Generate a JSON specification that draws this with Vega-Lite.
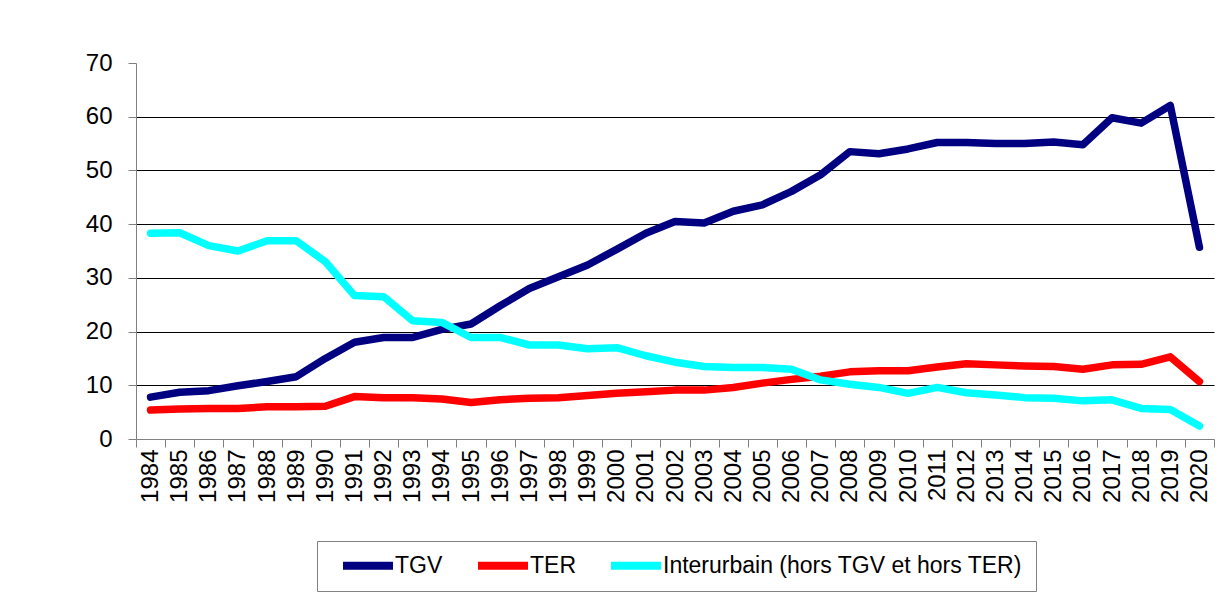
{
  "$schema": "https://vega.github.io/schema/vega-lite/v6.json",
  "autosize": "none",
  "width": 1078,
  "height": 376,
  "padding": {"left": 136, "top": 63, "right": 17, "bottom": 162},
  "background": "white",
  "config": {
    "view": {"stroke": null},
    "font": "Liberation Sans"
  },
  "data": {
    "values": [
      {"annee": "1984", "TGV": 7.8, "TER": 5.4, "Inter": 38.3},
      {"annee": "1985", "TGV": 8.7, "TER": 5.6, "Inter": 38.4},
      {"annee": "1986", "TGV": 9.0, "TER": 5.7, "Inter": 36.0},
      {"annee": "1987", "TGV": 9.9, "TER": 5.7, "Inter": 35.0},
      {"annee": "1988", "TGV": 10.7, "TER": 6.0, "Inter": 36.9},
      {"annee": "1989", "TGV": 11.6, "TER": 6.0, "Inter": 36.9},
      {"annee": "1990", "TGV": 15.0, "TER": 6.1, "Inter": 33.0},
      {"annee": "1991", "TGV": 18.0, "TER": 7.9, "Inter": 26.7},
      {"annee": "1992", "TGV": 18.9, "TER": 7.7, "Inter": 26.5},
      {"annee": "1993", "TGV": 18.9, "TER": 7.7, "Inter": 22.0},
      {"annee": "1994", "TGV": 20.4, "TER": 7.45, "Inter": 21.7},
      {"annee": "1995", "TGV": 21.4, "TER": 6.8, "Inter": 18.9},
      {"annee": "1996", "TGV": 24.8, "TER": 7.3, "Inter": 18.9},
      {"annee": "1997", "TGV": 28.0, "TER": 7.6, "Inter": 17.5},
      {"annee": "1998", "TGV": 30.2, "TER": 7.7, "Inter": 17.5},
      {"annee": "1999", "TGV": 32.4, "TER": 8.1, "Inter": 16.8},
      {"annee": "2000", "TGV": 35.3, "TER": 8.5, "Inter": 17.0},
      {"annee": "2001", "TGV": 38.3, "TER": 8.8, "Inter": 15.5},
      {"annee": "2002", "TGV": 40.5, "TER": 9.1, "Inter": 14.3},
      {"annee": "2003", "TGV": 40.2, "TER": 9.1, "Inter": 13.5},
      {"annee": "2004", "TGV": 42.4, "TER": 9.6, "Inter": 13.3},
      {"annee": "2005", "TGV": 43.6, "TER": 10.4, "Inter": 13.3},
      {"annee": "2006", "TGV": 46.1, "TER": 11.1, "Inter": 13.0},
      {"annee": "2007", "TGV": 49.2, "TER": 11.7, "Inter": 11.0},
      {"annee": "2008", "TGV": 53.5, "TER": 12.5, "Inter": 10.2},
      {"annee": "2009", "TGV": 53.1, "TER": 12.7, "Inter": 9.6},
      {"annee": "2010", "TGV": 54.0, "TER": 12.7, "Inter": 8.5},
      {"annee": "2011", "TGV": 55.2, "TER": 13.4, "Inter": 9.6},
      {"annee": "2012", "TGV": 55.2, "TER": 14.0, "Inter": 8.6},
      {"annee": "2013", "TGV": 55.0, "TER": 13.8, "Inter": 8.2},
      {"annee": "2014", "TGV": 55.0, "TER": 13.6, "Inter": 7.7},
      {"annee": "2015", "TGV": 55.3, "TER": 13.5, "Inter": 7.6},
      {"annee": "2016", "TGV": 54.8, "TER": 13.0, "Inter": 7.1},
      {"annee": "2017", "TGV": 59.8, "TER": 13.8, "Inter": 7.3},
      {"annee": "2018", "TGV": 58.8, "TER": 13.9, "Inter": 5.7},
      {"annee": "2019", "TGV": 62.1, "TER": 15.3, "Inter": 5.5},
      {"annee": "2020", "TGV": 35.7, "TER": 10.7, "Inter": 2.4}
    ]
  },
  "transform": [
    {"calculate": "datum.Inter", "as": "Interurbain (hors TGV et hors TER)"},
    {"fold": ["TGV", "TER", "Interurbain (hors TGV et hors TER)"], "as": ["serie", "valeur"]}
  ],
  "mark": {"type": "line", "strokeWidth": 7.5, "strokeCap": "round", "strokeJoin": "round"},
  "encoding": {
    "x": {
      "field": "annee",
      "type": "ordinal",
      "bandPosition": 0.5,
      "scale": {"type": "band", "paddingInner": 0, "paddingOuter": 0},
      "axis": {
        "title": null,
        "labelAngle": -90,
        "labelAlign": "right",
        "labelBaseline": "middle",
        "labelFontSize": 24,
        "labelColor": "black",
        "labelPadding": 2,
        "tickBand": "extent",
        "tickSize": 8,
        "tickColor": "#808080",
        "domainColor": "#808080",
        "grid": false
      }
    },
    "y": {
      "field": "valeur",
      "type": "quantitative",
      "scale": {"domain": [0, 70], "nice": false},
      "axis": {
        "title": null,
        "values": [0, 10, 20, 30, 40, 50, 60, 70],
        "labelFontSize": 24,
        "labelColor": "black",
        "labelPadding": 16,
        "tickSize": 8,
        "tickColor": "#808080",
        "domainColor": "#808080",
        "grid": true,
        "gridColor": "black",
        "gridWidth": 1,
        "gridOpacity": {"condition": {"test": "datum.value === 0 || datum.value === 70", "value": 0}, "value": 1}
      }
    },
    "color": {
      "field": "serie",
      "type": "nominal",
      "sort": ["TGV", "TER", "Interurbain (hors TGV et hors TER)"],
      "scale": {
        "domain": ["TGV", "TER", "Interurbain (hors TGV et hors TER)"],
        "range": ["#000080", "#FF0000", "#00FFFF"]
      },
      "legend": {
        "title": null,
        "orient": "none",
        "direction": "horizontal",
        "legendX": 181,
        "legendY": 478,
        "symbolType": "stroke",
        "symbolSize": 2500,
        "symbolStrokeWidth": 8,
        "symbolOffset": 9,
        "clipHeight": 23,
        "labelFontSize": 23,
        "labelColor": "black",
        "labelOffset": -2,
        "labelLimit": 500,
        "columnPadding": 22,
        "padding": 13,
        "strokeColor": "#808080",
        "fillColor": "white"
      }
    }
  }
}
